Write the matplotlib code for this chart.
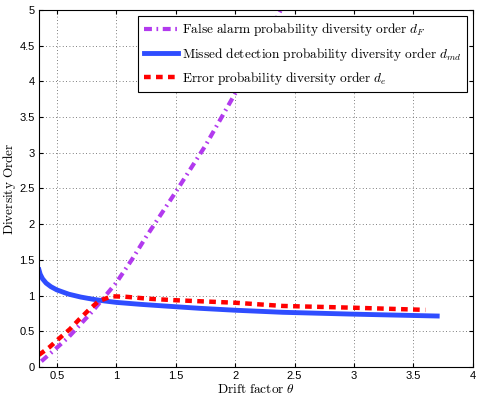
import matplotlib
matplotlib.use("Agg")
import matplotlib.pyplot as plt

# valores
theta_F = [0.37, 0.5, 0.6, 0.7, 0.8, 0.9, 1.0, 1.13, 1.25, 1.5, 1.75, 2.0, 2.2, 2.4]
d_F = [0.08, 0.27, 0.42, 0.6, 0.78, 0.98, 1.18, 1.5, 1.82, 2.45, 3.1, 3.83, 4.4, 5.05]

theta_md = [0.35, 0.36, 0.38, 0.41, 0.45, 0.5, 0.6, 0.7, 0.8, 0.9, 1.0, 1.2, 1.4,
            1.7, 2.0, 2.4, 3.0, 3.4, 3.7]
d_md = [1.36, 1.3, 1.235, 1.175, 1.125, 1.08, 1.02, 0.98, 0.95, 0.925, 0.905, 0.878,
        0.855, 0.822, 0.795, 0.766, 0.74, 0.725, 0.714]

theta_e = [0.35, 0.44, 0.52, 0.61, 0.69, 0.77, 0.85, 0.96, 1.07, 1.28, 1.5, 2.0, 2.4,
           3.0, 3.6]
d_e = [0.17, 0.28, 0.4, 0.53, 0.67, 0.8, 0.92, 0.99, 0.985, 0.955, 0.935, 0.9, 0.855,
       0.83, 0.80]

plt.rcParams['mathtext.fontset'] = 'cm'

fig = plt.figure(figsize=(4.85, 3.99), dpi=100)
ax = fig.add_axes([0.0804, 0.0802, 0.8946, 0.8948])

ax.plot(theta_F, d_F, color='#B23AEE', lw=3, dashes=[1.9, 1.1, 0.4, 1.1],
        label=r'$\mathrm{False\ alarm\ probability\ diversity\ order}\ d_F$')
ax.plot(theta_md, d_md, color='#2F4DFF', lw=3.5,
        label=r'$\mathrm{Missed\ detection\ probability\ diversity\ order}\ d_{md}$')
ax.plot(theta_e, d_e, color='#FF0000', lw=3.2, dashes=[1.5, 1.2],
        label=r'$\mathrm{Error\ probability\ diversity\ order}\ d_e$')

ax.set_xlim(0.35, 4)
ax.set_ylim(0, 5)
ax.set_xticks([0.5, 1, 1.5, 2, 2.5, 3, 3.5, 4])
ax.set_xticklabels(['0.5', '1', '1.5', '2', '2.5', '3', '3.5', '4'])
ax.set_yticks([0, 0.5, 1, 1.5, 2, 2.5, 3, 3.5, 4, 4.5, 5])
ax.set_yticklabels(['0', '0.5', '1', '1.5', '2', '2.5', '3', '3.5', '4', '4.5', '5'])
ax.tick_params(direction='in', top=True, right=True, labelsize=8, length=3, pad=3)
for lbl in ax.get_xticklabels() + ax.get_yticklabels():
    lbl.set_family('Liberation Sans')
ax.grid(True, linestyle=(0, (1, 3)), color='#555555', linewidth=0.6)
for s in ax.spines.values():
    s.set_linewidth(0.8)

ax.set_xlabel(r'$\mathrm{Drift\ factor}\ \theta$', fontsize=9.6, labelpad=1)
ax.set_ylabel(r'$\mathrm{Diversity\ Order}$', fontsize=9.6, labelpad=1)

leg = ax.legend(loc='upper right', fontsize=9.6,
                handlelength=2.6, fancybox=False, framealpha=1, edgecolor='black',
                borderaxespad=0.45, labelspacing=0.55, handletextpad=0.3)
leg.get_frame().set_linewidth(0.8)

fig.savefig('out.png', dpi=100)
